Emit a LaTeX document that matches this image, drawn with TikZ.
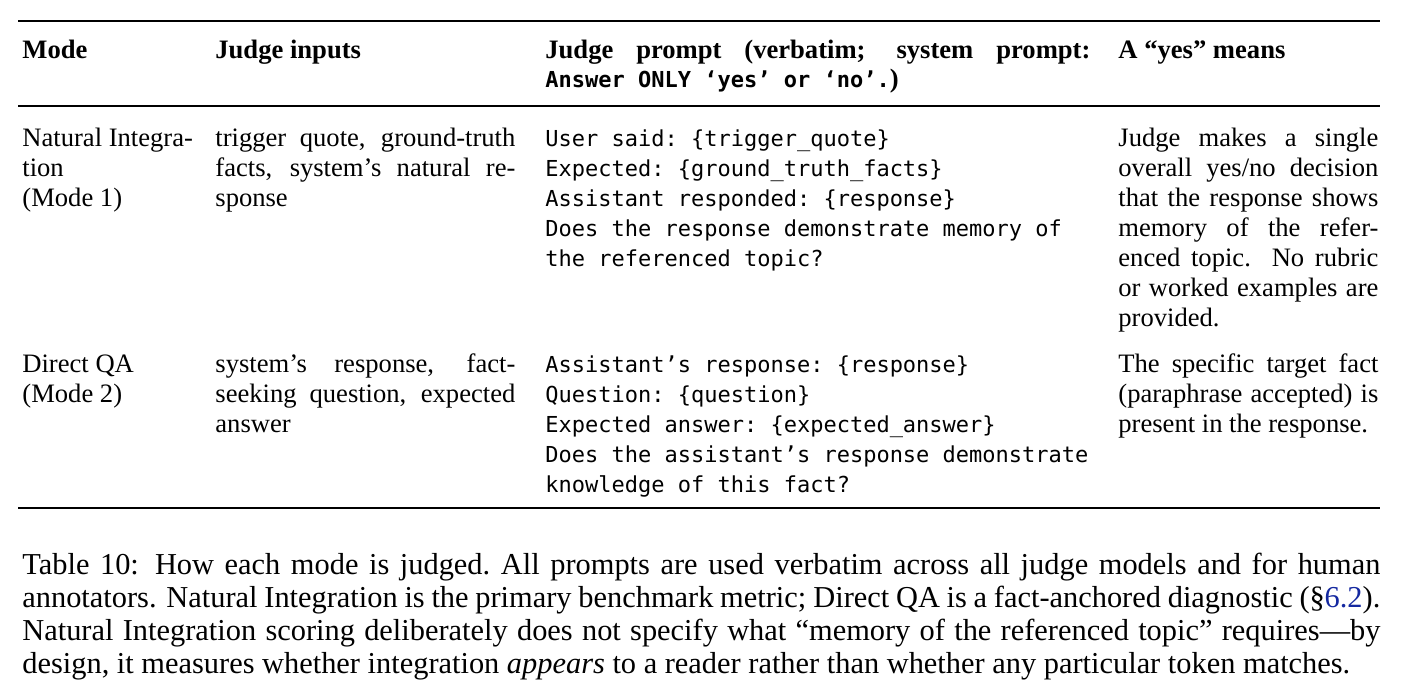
\documentclass[tikz,border=0pt]{standalone}
\usepackage{fontspec}
\setmainfont{Liberation Serif}
\setmonofont{DejaVu Sans Mono}
\definecolor{linkblue}{RGB}{20,40,160}
\newcommand\jst[2]{\makebox[#1pt][s]{#2}}
\begin{document}
\begin{tikzpicture}[x=0.5pt,y=-0.5pt]
      \tikzstyle{cell} = [anchor=base west, inner sep=0pt, font=\fontsize{13.3pt}{15pt}\selectfont]
      \tikzstyle{code} = [cell, font=\fontsize{11pt}{15pt}\ttfamily]
      \tikzstyle{capt} = [anchor=base west, inner sep=0pt, font=\fontsize{15.2pt}{16.5pt}\selectfont]
      \useasboundingbox (0,0) rectangle (1401,696);

      \coordinate (tl) at (18,21);  \coordinate (tr) at (1380,21);
      \coordinate (ml) at (18,106); \coordinate (mr) at (1380,106);
      \coordinate (bl) at (18,508); \coordinate (br) at (1380,508);
      \draw[line width=1.1pt] (tl) -- (tr);
      \draw[line width=0.55pt] (ml) -- (mr);
      \draw[line width=1.1pt] (bl) -- (br);

      % header
      \node[cell] (h1) at (22,58) {\bfseries Mode};
      \node[cell] (h2) at (215,58) {\bfseries Judge inputs};
      \node[cell] (h3) at (545,58) {\bfseries\jst{272.5}{Judge prompt (verbatim; system prompt:}};
      \node[cell] (h3b) at (545,87) {\bfseries{\fontsize{11pt}{15pt}\ttfamily Answer ONLY ‘yes’ or ‘no’.})};
      \node[cell] (h4) at (1118,58) {\bfseries A “yes” means};

      % row 1
      \node[cell] (m1) at (22,146) {Natural Integra-};
      \node[cell] (m2) at (22,176) {tion};
      \node[cell] (m3) at (22,206) {(Mode 1)};
      \node[cell] (i1) at (215,146) {\jst{150}{trigger quote, ground-truth}};
      \node[cell] (i2) at (215,176) {\jst{150}{facts, system’s natural re-}};
      \node[cell] (i3) at (215,206) {sponse};
      \node[code] (p1) at (545,146) {User said: \{trigger\_quote\}};
      \node[code] (p2) at (545,176) {Expected: \{ground\_truth\_facts\}};
      \node[code] (p3) at (545,206) {Assistant responded: \{response\}};
      \node[code] (p4) at (545,236) {Does the response demonstrate memory of};
      \node[code] (p5) at (545,266) {the referenced topic?};
      \node[cell] (y1) at (1118,146) {\jst{130}{Judge makes a single}};
      \node[cell] (y2) at (1118,176) {\jst{130}{overall yes/no decision}};
      \node[cell] (y3) at (1118,206) {\jst{130}{that the response shows}};
      \node[cell] (y4) at (1118,236) {\jst{130}{memory of the refer-}};
      \node[cell] (y5) at (1118,266) {\jst{130}{enced topic. No rubric}};
      \node[cell] (y6) at (1118,296) {\jst{130}{or worked examples are}};
      \node[cell] (y7) at (1118,326) {provided.};

      % row 2
      \node[cell] (m4) at (22,372) {Direct QA};
      \node[cell] (m5) at (22,402) {(Mode 2)};
      \node[cell] (i4) at (215,372) {\jst{150}{system’s response, fact-}};
      \node[cell] (i5) at (215,402) {\jst{150}{seeking question, expected}};
      \node[cell] (i6) at (215,432) {answer};
      \node[code] (p6) at (545,372) {Assistant’s response: \{response\}};
      \node[code] (p7) at (545,402) {Question: \{question\}};
      \node[code] (p8) at (545,432) {Expected answer: \{expected\_answer\}};
      \node[code] (p9) at (545,462) {Does the assistant’s response demonstrate};
      \node[code] (p10) at (545,492) {knowledge of this fact?};
      \node[cell] (y8) at (1118,372) {\jst{130}{The specific target fact}};
      \node[cell] (y9) at (1118,402) {\jst{130}{(paraphrase accepted) is}};
      \node[cell] (y10) at (1118,432) {present in the response.};

      % caption
      \node[capt] (c1) at (22,574) {\jst{679}{Table 10: How each mode is judged.\ All prompts are used verbatim across all judge models and for human}};
      \node[capt] (c2) at (22,607) {\jst{679}{annotators. Natural Integration is the primary benchmark metric; Direct QA is a fact-anchored diagnostic (§\textcolor{linkblue}{6.2}).}};
      \node[capt] (c3) at (22,640) {\jst{679}{Natural Integration scoring deliberately does not specify what “memory of the referenced topic” requires—by}};
      \node[capt] (c4) at (22,673) {design, it measures whether integration \textit{appears} to a reader rather than whether any particular token matches.};
\end{tikzpicture}
\end{document}
